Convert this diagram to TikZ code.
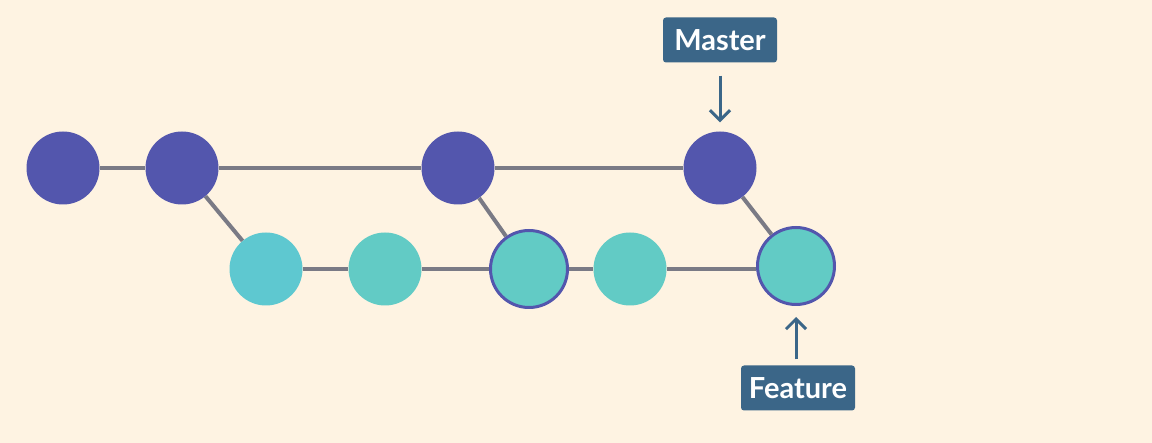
\documentclass[tikz,border=0pt]{standalone}
\usepackage{fontspec}
\setmainfont{Lato}
\usetikzlibrary{arrows.meta}
\definecolor{bg}{HTML}{FEF3E2}
\definecolor{mpurple}{HTML}{5356AD}
\definecolor{fteal}{HTML}{62CBC5}
\definecolor{fcyan}{HTML}{5EC8D0}
\definecolor{edgegray}{HTML}{7A7A85}
\definecolor{labelblue}{HTML}{3B6688}
\tikzset{
  master/.style={circle,fill=mpurple,minimum size=73pt,inner sep=0pt},
  feat/.style={circle,fill=fteal,minimum size=73pt,inner sep=0pt},
  featb/.style={circle,fill=fteal,draw=mpurple,line width=3pt,minimum size=77pt,inner sep=0pt},
  edge/.style={draw=edgegray,line width=4pt},
  tag/.style={fill=labelblue,text=white,rounded corners=3pt,font=\bfseries\fontsize{29}{34}\selectfont,minimum width=114pt,minimum height=45pt,inner sep=0pt},
  ptr/.style={draw=labelblue,line width=3pt,-{Straight Barb[length=10pt,width=20pt,line width=3pt]}}
}
\begin{document}
\begin{tikzpicture}[x=1pt,y=-1pt]
\fill[bg] (0,0) rectangle (1152,443);
\useasboundingbox (0,0) rectangle (1152,443);
\node[master] (m1) at (63,168) {};
\node[master] (m2) at (182,168) {};
\node[master] (m3) at (458,168) {};
\node[master] (m4) at (720,168) {};
\node[feat,fill=fcyan] (f1) at (266,269) {};
\node[feat] (f2) at (385,269) {};
\node[featb] (f3) at (529,269) {};
\node[feat] (f4) at (630,269) {};
\node[featb] (f5) at (796,266) {};
\path[edge] (m1) -- (m2);
\path[edge] (m2) -- (m3);
\path[edge] (m3) -- (m4);
\path[edge] (m2) -- (f1);
\path[edge] (f1) -- (f2);
\path[edge] (f2) -- (f3);
\path[edge] (f3) -- (f4);
\path[edge] (f4.east) -- (f4.east -| f5.west);
\path[edge] (m3) -- (f3);
\path[edge] (m4) -- (f5);
\node[tag] (tm) at (720,40) {Master};
\node[tag] (tf) at (798,388) {Feature};
\coordinate (tms) at ([yshift=-13pt]tm.south);
\coordinate (m4t) at ([yshift=9pt]m4.north);
\coordinate (tfn) at ([yshift=6pt]tf.north);
\coordinate (f5b) at ([yshift=-11pt]f5.south);
\draw[ptr] (tms) -- (m4t);
\draw[ptr] (tfn -| f5b) -- (f5b);
\end{tikzpicture}
\end{document}
